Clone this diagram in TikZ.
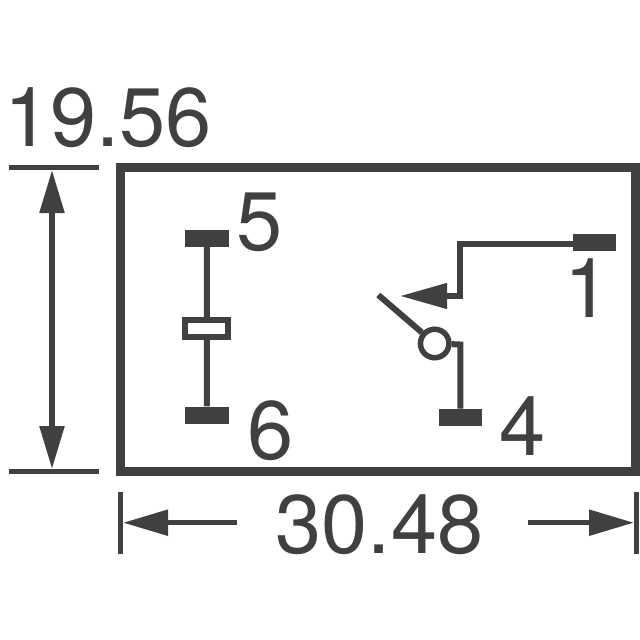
\documentclass[tikz,border=0pt]{standalone}
\usepackage{fontspec}
\setmainfont{TeX Gyre Heros}
\usetikzlibrary{arrows.meta}
\definecolor{ink}{HTML}{404040}
\tikzset{
  wire/.style={draw=ink,line width=6pt},
  pad/.style={fill=ink,draw=none,minimum width=43.5pt,minimum height=17pt,inner sep=0pt,rectangle},
  lab/.style={text=ink,inner sep=0pt,anchor=base,font=\fontsize{83}{83}\selectfont},
  tick/.style={draw=ink,line width=5pt},
  dim/.style={draw=ink,line width=5.5pt,-{Triangle[length=45pt,width=25pt]}},
  dimm/.style={draw=ink,line width=5.5pt,{Triangle[length=43pt,width=24pt]}-{Triangle[length=43pt,width=24pt]}},
}
\begin{document}
\begin{tikzpicture}[x=1pt,y=-1pt]
\useasboundingbox (0,0) rectangle (640,640);
\fill[white] (0,0) rectangle (640,640);
% outer box
\draw[draw=ink,line width=8.7pt] (120.3,167.6) rectangle (635.6,471.2);
% dimension height
\coordinate (ht1) at (9,167); \coordinate (ht2) at (99,167);
\coordinate (hb1) at (9,471); \coordinate (hb2) at (99,471);
\draw[tick] (ht1) -- (ht2);
\draw[tick] (hb1) -- (hb2);
\coordinate (va) at (52,170); \coordinate (vb) at (52,469);
\draw[dimm] (va) -- (vb);
\node[lab] (h) at (108,146) {19.56};
% dimension width
\coordinate (wl1) at (120,492); \coordinate (wl2) at (120,554);
\coordinate (wr1) at (636,492); \coordinate (wr2) at (636,554);
\draw[tick] (wl1) -- (wl2);
\draw[tick] (wr1) -- (wr2);
\coordinate (al0) at (237,522.7); \coordinate (al1) at (123,522.7);
\coordinate (ar0) at (528,522.7); \coordinate (ar1) at (634,522.7);
\draw[dim] (al0) -- (al1);
\draw[dim] (ar0) -- (ar1);
\node[lab] (w) at (379.5,553) {30.48};
% coil
\node[pad] (p5) at (207,238.4) {};
\node[pad] (p6) at (207,415) {};
\node[draw=ink,line width=6pt,fill=white,rectangle,inner sep=0pt,minimum width=43pt,minimum height=17pt] (coil) at (206.8,328.7) {};
\draw[wire] (p5) -- (coil);
\draw[wire] (coil) -- (p6);
\node[lab] (l5) at (260,250) {5};
\node[lab] (l6) at (271,459) {6};
% switch
\node[pad] (p1) at (594.5,242.8) {};
\node[pad] (p4) at (460.3,417.2) {};
\node[circle,draw=ink,line width=5.5pt,fill=white,inner sep=0pt,minimum size=28.5pt] (piv) at (434.7,343.5) {};
\coordinate (c1) at (460.3,244);
\coordinate (c2) at (460.3,296);
\coordinate (tip) at (400,296);
\coordinate (c3) at (460.3,344.5);
\coordinate (lev) at (378.3,295);
\draw[wire] (p1.west |- c1) -- (c1) -- (c2);
\draw[draw=ink,line width=6pt,-{Triangle[length=47pt,width=24.5pt]}] (463.3,296) -- (tip);
\draw[wire] (piv) -- (c3) -- (p4);
\draw[wire] (lev) -- (piv);
\node[lab] (l1) at (587.5,317) {1};
\node[lab] (l4) at (523,455) {4};
\end{tikzpicture}
\end{document}
